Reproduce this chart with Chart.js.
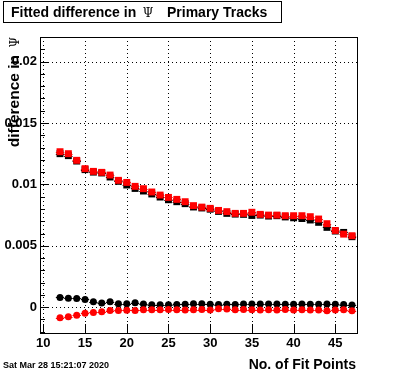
<!DOCTYPE html>
<html>
<head>
<meta charset="utf-8">
<script src="https://cdn.jsdelivr.net/npm/chart.js@4.4.1/dist/chart.umd.min.js"></script>
<style>
  html, body { margin: 0; padding: 0; background: #fff; }
  #wrap { width: 396px; height: 372px; position: relative; }
</style>
</head>
<body>
<div id="wrap"><canvas id="c" width="396" height="372"></canvas></div>
<script>
// data
const fitPoints = [12, 13, 14, 15, 16, 17, 18, 19, 20, 21, 22, 23, 24, 25, 26, 27, 28, 29,
                   30, 31, 32, 33, 34, 35, 36, 37, 38, 39, 40, 41, 42, 43, 44, 45, 46, 47];

const redSquares = [0.01266, 0.0125, 0.01196, 0.01128, 0.01106, 0.01098, 0.01076, 0.01033, 0.01016,
                    0.00984, 0.00965, 0.00938, 0.00913, 0.00894, 0.00878, 0.00859, 0.00827, 0.00815,
                    0.00805, 0.00788, 0.00778, 0.00764, 0.00764, 0.00773, 0.00756, 0.0075, 0.0075,
                    0.00745, 0.00745, 0.00745, 0.00737, 0.00718, 0.0068, 0.00625, 0.00595, 0.00582];

const blackSquares = [0.0125, 0.01234, 0.0119, 0.0112, 0.011, 0.01093, 0.0106, 0.01025, 0.00995,
                      0.00967, 0.00946, 0.00922, 0.00897, 0.00875, 0.00859, 0.00843, 0.00816, 0.00808,
                      0.00798, 0.0078, 0.00764, 0.00758, 0.00756, 0.00747, 0.0075, 0.00742, 0.00745,
                      0.00735, 0.00728, 0.00722, 0.0071, 0.00691, 0.0065, 0.0062, 0.00609, 0.00574];

const blackCircles = [0.0008, 0.00073, 0.00071, 0.00063, 0.00045, 0.00035, 0.00045, 0.00028, 0.00028,
                      0.00037, 0.00027, 0.00021, 0.00021, 0.00021, 0.00023, 0.00024, 0.00028, 0.00028,
                      0.00024, 0.00022, 0.00024, 0.00023, 0.00027, 0.00026, 0.00026, 0.00026, 0.00026,
                      0.00024, 0.00024, 0.00026, 0.00025, 0.00024, 0.00026, 0.00024, 0.00022, 0.00018];

const redCircles = [-0.00086, -0.00077, -0.00066, -0.0005, -0.00043, -0.00036, -0.00027, -0.00026, -0.00025,
                    -0.00026, -0.0002, -0.00021, -0.0002, -0.00019, -0.00021, -0.00022, -0.0002, -0.00019,
                    -0.00022, -0.00013, -0.00015, -0.0002, -0.00019, -0.0002, -0.00022, -0.0002, -0.00022,
                    -0.00019, -0.00022, -0.00021, -0.00022, -0.00023, -0.00029, -0.00022, -0.00021, -0.00028];

const xTicks = [10, 15, 20, 25, 30, 35, 40, 45];
const xTickLabels = ['10', '15', '20', '25', '30', '35', '40', '45'];
const yTicks = [0, 0.005, 0.01, 0.015, 0.02];
const yTickLabels = ['0', '0.005', '0.01', '0.015', '0.02'];
const yMinorTicks = [-0.002, -0.001, 0.001, 0.002, 0.003, 0.004, 0.006, 0.007, 0.008, 0.009,
                     0.011, 0.012, 0.013, 0.014, 0.016, 0.017, 0.018, 0.019, 0.021, 0.022];

const SANS = '"Liberation Sans", Arial, sans-serif';
const SERIF = '"DejaVu Serif", "Liberation Serif", serif';

function pts(ys){ return fitPoints.map((x, i) => ({ x, y: ys[i] })); }

// ROOT-like frame, dotted grid, inner ticks, x error bars and titles
const rootFrame = {
  id: 'rootFrame',
  beforeDatasetsDraw(chart){
    const { ctx, chartArea: a, scales: { x, y } } = chart;
    ctx.save();
    ctx.strokeStyle = '#000';
    ctx.lineWidth = 1;
    ctx.setLineDash([1, 3]);
    xTicks.forEach(v => {
      const px = Math.round(x.getPixelForValue(v)) + 0.5;
      ctx.beginPath(); ctx.moveTo(px, a.top); ctx.lineTo(px, a.bottom); ctx.stroke();
    });
    yTicks.forEach(v => {
      const py = Math.round(y.getPixelForValue(v)) + 0.5;
      ctx.beginPath(); ctx.moveTo(a.left, py); ctx.lineTo(a.right, py); ctx.stroke();
    });
    ctx.restore();
  },
  beforeDatasetDraw(chart, args){
    const { ctx, chartArea: a, scales: { x, y } } = chart;
    const ds = chart.data.datasets[args.index];
    ctx.save();
    ctx.beginPath(); ctx.rect(a.left, a.top, a.right - a.left, a.bottom - a.top); ctx.clip();
    ctx.strokeStyle = ds.backgroundColor;
    ctx.lineWidth = 1;
    ds.data.forEach(p => {
      const py = Math.round(y.getPixelForValue(p.y)) + 0.5;
      ctx.beginPath();
      ctx.moveTo(x.getPixelForValue(p.x - 0.5), py);
      ctx.lineTo(x.getPixelForValue(p.x + 0.5), py);
      ctx.stroke();
    });
    ctx.restore();
  },
  afterDraw(chart){
    const { ctx, chartArea: a, scales: { x, y } } = chart;
    ctx.save();
    ctx.strokeStyle = '#000';
    ctx.lineWidth = 1;
    ctx.strokeRect(a.left + 0.5, a.top + 0.5, a.right - a.left, a.bottom - a.top);

    // inner ticks
    ctx.beginPath();
    yTicks.forEach(v => { const py = Math.round(y.getPixelForValue(v)) + 0.5; ctx.moveTo(a.left, py); ctx.lineTo(a.left + 9, py); });
    yMinorTicks.forEach(v => { const py = Math.round(y.getPixelForValue(v)) + 0.5; ctx.moveTo(a.left, py); ctx.lineTo(a.left + 5, py); });
    xTicks.forEach(v => { const px = Math.round(x.getPixelForValue(v)) + 0.5; ctx.moveTo(px, a.bottom); ctx.lineTo(px, a.bottom - 9); });
    ctx.stroke();

    // title box
    ctx.fillStyle = '#fff';
    ctx.fillRect(3.5, 1.5, 278, 21);
    ctx.strokeRect(3.5, 1.5, 278, 21);
    ctx.fillStyle = '#000';
    ctx.textBaseline = 'alphabetic';
    ctx.textAlign = 'left';
    ctx.font = 'bold 14px ' + SANS;
    ctx.fillText('Fitted difference in', 11, 17);
    ctx.fillText('Primary Tracks', 167, 17);
    ctx.font = '12px ' + SERIF;
    ctx.textAlign = 'center';
    ctx.fillText('\u03A8', 148, 17);

    // y title
    ctx.save();
    ctx.translate(19, 40);
    ctx.rotate(-Math.PI / 2);
    ctx.textAlign = 'right';
    ctx.font = '12px ' + SERIF;
    ctx.fillText('\u03A8', 3, 0);
    ctx.font = 'bold 15.5px ' + SANS;
    ctx.fillText('difference in', -15, 0);
    ctx.restore();

    // x title and date
    ctx.textAlign = 'right';
    ctx.font = 'bold 14px ' + SANS;
    ctx.fillText('No. of Fit Points', 356, 369);
    ctx.textAlign = 'left';
    ctx.font = 'bold 9px ' + SANS;
    ctx.fillText('Sat Mar 28 15:21:07 2020', 3, 368);
    ctx.restore();
  }
};

const tickFont = { family: SANS, size: 13, weight: 'bold' };

new Chart(document.getElementById('c'), {
  type: 'scatter',
  data: {
    datasets: [
      { label: 'red squares', data: pts(redSquares), pointStyle: 'rect', pointRadius: 4.9, backgroundColor: '#ff0000', borderWidth: 0 },
      { label: 'red circles', data: pts(redCircles), pointStyle: 'circle', pointRadius: 3.5, backgroundColor: '#ff0000', borderWidth: 0 },
      { label: 'black squares', data: pts(blackSquares), pointStyle: 'rect', pointRadius: 4.9, backgroundColor: '#000000', borderWidth: 0 },
      { label: 'black circles', data: pts(blackCircles), pointStyle: 'circle', pointRadius: 3.5, backgroundColor: '#000000', borderWidth: 0 }
    ]
  },
  options: {
    responsive: false,
    animation: false,
    events: [],
    layout: { padding: { left: 0, right: 39, top: 37, bottom: 0 } },
    plugins: { legend: { display: false }, tooltip: { enabled: false } },
    scales: {
      x: {
        type: 'linear', min: 9.6, max: 47.6,
        grid: { display: false, drawTicks: false },
        border: { display: false },
        afterBuildTicks: s => { s.ticks = xTicks.map(v => ({ value: v })); },
        afterFit: s => { s.height = 39; },
        ticks: { color: '#000', font: tickFont, padding: 3, maxRotation: 0, autoSkip: false,
                 callback: (v, i) => xTickLabels[i] }
      },
      y: {
        type: 'linear', min: -0.0021, max: 0.022,
        grid: { display: false, drawTicks: false },
        border: { display: false },
        afterBuildTicks: s => { s.ticks = yTicks.map(v => ({ value: v })); },
        afterFit: s => { s.width = 40; },
        ticks: { color: '#000', font: tickFont, padding: 3, autoSkip: false,
                 callback: (v, i) => yTickLabels[i] }
      }
    }
  },
  plugins: [rootFrame]
});
</script>
</body>
</html>
